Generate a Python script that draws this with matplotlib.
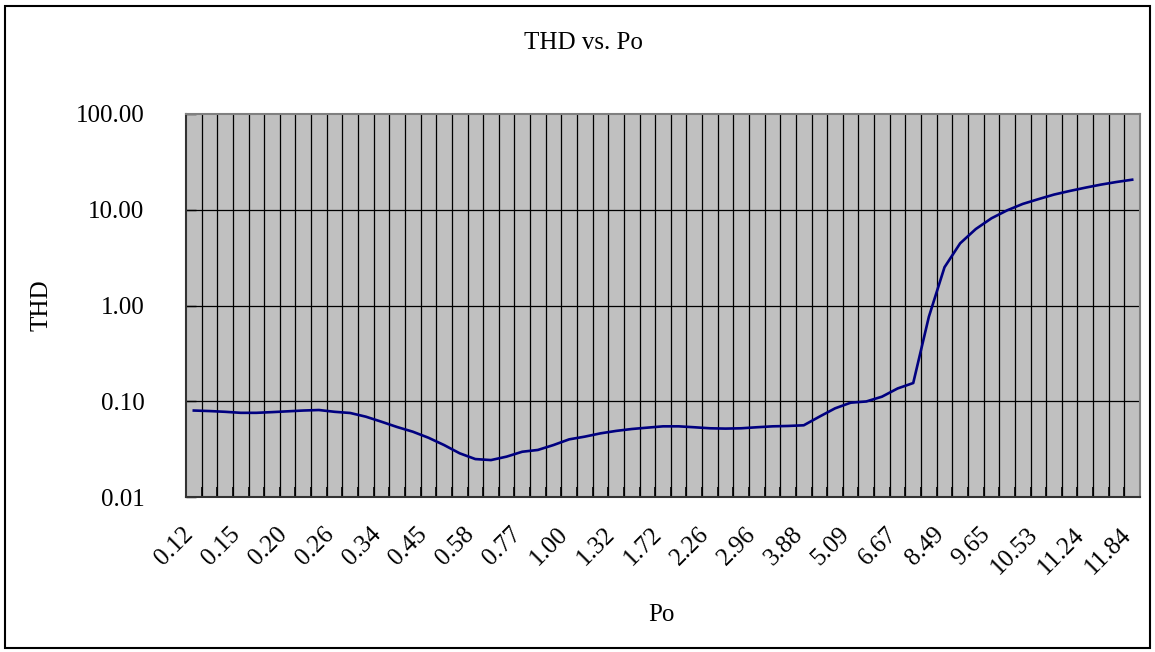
import numpy as np
import matplotlib.pyplot as plt
from matplotlib.patches import Rectangle
from matplotlib.ticker import FixedLocator, NullFormatter
from matplotlib.transforms import ScaledTranslation

# etiquetas visibles del eje X (una de cada 3 categorias)
po_labels = ["0.12", "0.15", "0.20", "0.26", "0.34", "0.45", "0.58", "0.77",
             "1.00", "1.32", "1.72", "2.26", "2.96", "3.88", "5.09", "6.67",
             "8.49", "9.65", "10.53", "11.24", "11.84"]

# valores THD (61 puntos)
thd = [0.080, 0.079, 0.0776, 0.0757, 0.0757, 0.077, 0.0785, 0.080, 0.081, 0.0776,
       0.0754, 0.069, 0.0611, 0.0538, 0.0481, 0.0416, 0.0349, 0.0286, 0.0249, 0.0243,
       0.0264, 0.0297, 0.031, 0.0349, 0.040, 0.0427, 0.0462, 0.049, 0.0513, 0.053,
       0.0547, 0.0547, 0.0535, 0.0522, 0.0518, 0.0522, 0.0535, 0.0547, 0.0552, 0.0561,
       0.069, 0.0843, 0.0966, 0.0995, 0.1116, 0.136, 0.155, 0.763, 2.51, 4.46,
       6.29, 8.14, 9.85, 11.5, 12.9, 14.4, 15.7, 17.0, 18.3, 19.5, 20.6]

label_step = 3
font = "Liberation Serif"

fig = plt.figure(figsize=(11.55, 6.52), dpi=100)
ax = fig.add_axes([186 / 1155, 155 / 652, 954 / 1155, 383 / 652])
ax.set_facecolor("#C0C0C0")

x = np.arange(len(thd))
ax.plot(x, thd, color="#000080", linewidth=1.9, zorder=3)

ax.set_yscale("log")
ax.set_ylim(0.01, 100)
ax.set_xlim(-0.5, len(thd) - 0.5)

# lineas de la cuadricula (entre categorias y en cada decada)
for k in range(1, len(thd)):
    ax.axvline(k - 0.5, color="black", linewidth=0.9, zorder=1)
for v in [0.1, 1, 10]:
    ax.axhline(v, color="black", linewidth=0.9, zorder=1)

yt = [0.01, 0.1, 1, 10, 100]
ax.yaxis.set_major_locator(FixedLocator(yt))
ax.yaxis.set_minor_locator(FixedLocator([]))
ax.yaxis.set_minor_formatter(NullFormatter())
ax.set_yticklabels(["%.2f" % v for v in yt], fontsize=18, family=font)
ax.tick_params(axis="y", direction="in", length=7, width=1, pad=30)

ax.set_xticks(np.arange(0, len(thd), label_step))
ax.set_xticklabels(po_labels, rotation=45, ha="right", va="top",
                   rotation_mode="anchor", fontsize=18, family=font)
ax.xaxis.set_minor_locator(FixedLocator(np.arange(len(thd) + 1) - 0.5))
ax.tick_params(axis="x", which="major", length=0, pad=14)
ax.tick_params(axis="x", which="minor", direction="in", length=7, width=1.2)

# mover las etiquetas un poco a la izquierda y abajo como en Excel
shift = ScaledTranslation(-0.12, -0.07, fig.dpi_scale_trans)
for lab in ax.get_xticklabels():
    lab.set_transform(lab.get_transform() + shift)

for s in ["top", "right"]:
    ax.spines[s].set_color("#808080")
    ax.spines[s].set_linewidth(1.5)
for s in ["left", "bottom"]:
    ax.spines[s].set_color("#333333")
    ax.spines[s].set_linewidth(1.5)

fig.text(583 / 1155, 1 - 43 / 652, "THD vs. Po", ha="center", va="center",
         fontsize=18, family=font)
fig.text(42 / 1155, 1 - 305 / 652, "THD", ha="center", va="center",
         rotation=90, fontsize=18, family=font)
fig.text(661 / 1155, 1 - 615 / 652, "Po", ha="center", va="center",
         fontsize=18, family=font)

# marco exterior de la figura
fig.patches.append(Rectangle((5 / 1155, 4 / 652), 1145 / 1155, 642 / 652,
                             transform=fig.transFigure, fill=False,
                             edgecolor="black", linewidth=1.5))

fig.savefig("out.png", dpi=100)
